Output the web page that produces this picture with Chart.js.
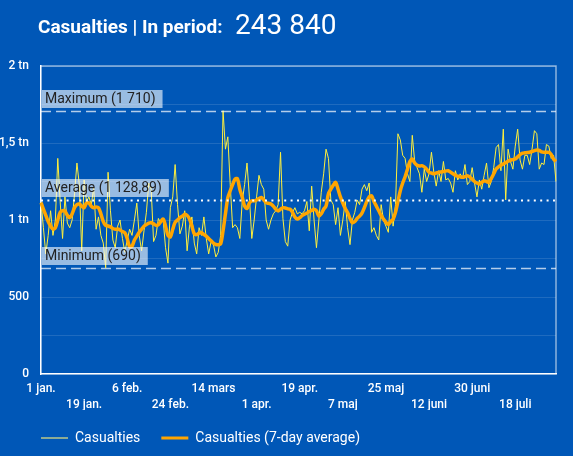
<!DOCTYPE html>
<html>
<head>
<meta charset="utf-8">
<script src="https://cdn.jsdelivr.net/npm/chart.js@4.4.0/dist/chart.umd.min.js"></script>
<style>
  html, body { margin: 0; padding: 0; background: #0057b7; overflow: hidden; }
  #wrap { position: relative; width: 573px; height: 456px; }
  #chart { position: absolute; left: 0; top: 0; }
  .t1 { position: absolute; left: 38px; top: 17px; font: bold 19px/19px Roboto, sans-serif; color: #fff; white-space: nowrap; }
  .t2 { position: absolute; left: 235px; top: 11px; font: 28px/28px Roboto, sans-serif; color: #fff; white-space: nowrap; }
</style>
</head>
<body>
<div id="wrap">
  <canvas id="chart" width="573" height="456"></canvas>
  <span class="t1">Casualties | In period:</span>
  <span class="t2" id="total"></span>
</div>
<script>
// 1 jan. 2023 - 4 aug. 2023, one value per day
const casualties = [
  1120, 950, 780, 900, 1060, 900, 1000, 1400, 1120, 880,
  1150, 980, 950, 1000, 1170, 1370, 1230, 800, 1260, 1120,
  1150, 1100, 1210, 940, 1020, 900, 850, 690, 1310, 1060,
  870, 820, 960, 1000, 880, 790, 870, 940, 900, 1000,
  1110, 900, 800, 930, 1050, 1240, 1200, 860, 900, 1010,
  980, 1000, 820, 720, 1080, 1150, 1360, 1100, 910, 960,
  1060, 800, 960, 1020, 850, 780, 950, 900, 1020, 880,
  780, 860, 840, 760, 790, 900, 1710, 1460, 1540, 1230,
  950, 970, 950, 880, 1120, 1230, 1370, 1150, 880, 1000,
  1150, 1290, 1230, 1200, 1000, 940, 1000, 1040, 1060, 1100,
  1440, 1010, 860, 830, 1000, 1050, 1080, 1040, 1050, 1040,
  1060, 1120, 930, 1220, 1000, 820, 1000, 1180, 1300, 1460,
  1400, 1130, 1100, 970, 1080, 900, 1000, 1120, 950, 840,
  1000, 1050, 1130, 1100, 1200, 1230, 1190, 1240, 920, 950,
  900, 870, 1100, 1000, 960, 920, 1150, 960, 1100, 1560,
  1520, 1420, 1400, 1300, 1250, 1550, 1380, 1340, 1300, 1180,
  1330, 1250, 1300, 1440, 1310, 1220, 1320, 1250, 1380, 1260,
  1270, 1240, 1180, 1320, 1260, 1300, 1270, 1360, 1230, 1250,
  1340, 1240, 1150, 1260, 1200, 1290, 1370, 1210, 1250, 1340,
  1470, 1490, 1320, 1590, 1130, 1460, 1380, 1330, 1480, 1590,
  1390, 1330, 1420, 1420, 1360, 1460, 1580, 1560, 1330, 1370,
  1360, 1490, 1480, 1400, 1420, 1250
];

const casualtiesAvg = [
  1113, 1070, 1030, 990, 960, 941, 950, 1000, 1050, 1060,
  1059, 1030, 1015, 1040, 1080, 1100, 1104, 1090, 1080, 1110,
  1110, 1090, 1080, 1085, 1080, 1040, 990, 965, 961, 955,
  945, 940, 941, 935, 925, 917, 880, 825, 830, 870,
  895, 920, 940, 960, 970, 980, 982, 975, 965, 970,
  990, 1006, 960, 900, 890, 940, 985, 1000, 1015, 1025,
  1037, 1030, 1006, 960, 910, 905, 915, 917, 905, 895,
  880, 865, 850, 841, 840, 845, 930, 1040, 1146, 1190,
  1230, 1265, 1268, 1200, 1150, 1090, 1075, 1110, 1124, 1124,
  1130, 1140, 1146, 1130, 1113, 1108, 1104, 1090, 1070, 1059,
  1070, 1080, 1078, 1072, 1070, 1050, 1020, 1006, 1015, 1028,
  1037, 1045, 1055, 1062, 1070, 1060, 1026, 1040, 1070, 1091,
  1170, 1200, 1225, 1244, 1200, 1150, 1110, 1075, 1048, 1010,
  982, 990, 1010, 1025, 1045, 1080, 1120, 1150, 1157, 1120,
  1090, 1060, 1030, 1005, 985, 971, 990, 1006, 1050, 1120,
  1190, 1240, 1280, 1330, 1380, 1396, 1370, 1355, 1350, 1353,
  1345, 1330, 1310, 1305, 1300, 1305, 1309, 1312, 1315, 1318,
  1320, 1310, 1300, 1290, 1285, 1280, 1277, 1282, 1288, 1280,
  1265, 1250, 1240, 1233, 1245, 1255, 1250, 1244, 1270, 1300,
  1331, 1345, 1355, 1364, 1372, 1382, 1388, 1392, 1396, 1410,
  1425, 1434, 1436, 1438, 1440, 1445, 1450, 1455, 1452, 1442,
  1440, 1440, 1440, 1425, 1395, 1380
];

// a date label every 18 days
const tickLabels = ['1 jan.', '19 jan.', '6 feb.', '24 feb.', '14 mars', '1 apr.',
  '19 apr.', '7 maj', '25 maj', '12 juni', '30 juni', '18 juli'];
const tickStep = 18;

const yTicks = [0, 500, 1000, 1500, 2000];
const yTickText = ['0', '500', '1 tn', '1,5 tn', '2 tn'];

const periodTotal = '243 840';
const refValues = [1710, 1128.89, 690];
const refTexts = ['Maximum (1 710)', 'Average (1 128,89)', 'Minimum (690)'];

const days = casualties.map((v, i) => i);
const gridColor = 'rgba(255,255,255,0.12)';
const font = {family: 'Roboto', size: 12, weight: 500, lineHeight: 1.35};

document.getElementById('total').textContent = periodTotal;

const frame = {
  id: 'frame',
  afterLayout(chart) {
    // legend starts under the plot, not at the canvas edge
    chart.legend.left += 20;
    chart.legend.right += 20;
  },
  beforeDatasetsDraw(chart) {
    const {ctx, chartArea: a} = chart;
    ctx.save();
    ctx.strokeStyle = 'rgba(255,255,255,0.55)';
    ctx.lineWidth = 1.5;
    ctx.beginPath();
    ctx.moveTo(a.left, a.top);
    ctx.lineTo(a.right, a.top);
    ctx.lineTo(a.right, a.bottom);
    ctx.stroke();
    ctx.restore();
  }
};

const refLines = {
  id: 'refLines',
  afterDatasetsDraw(chart) {
    const {ctx, chartArea: a, scales: {y}} = chart;
    ctx.save();
    refValues.forEach((v, i) => {
      const py = Math.round(y.getPixelForValue(v)) + 0.5;
      if (i == 1) {
        ctx.setLineDash([2, 4.4]);
        ctx.lineWidth = 2;
        ctx.strokeStyle = '#fff';
      } else {
        ctx.setLineDash([10, 5]);
        ctx.lineWidth = 1.5;
        ctx.strokeStyle = 'rgba(255,255,255,0.7)';
      }
      ctx.beginPath();
      ctx.moveTo(a.left, py);
      ctx.lineTo(a.right, py);
      ctx.stroke();
      ctx.setLineDash([]);

      ctx.font = '14px Roboto';
      const tw = ctx.measureText(refTexts[i]).width;
      ctx.fillStyle = 'rgba(255,255,255,0.6)';
      ctx.fillRect(a.left + 1, py - 21.5, tw + 10, 18);
      ctx.fillStyle = '#222';
      ctx.textBaseline = 'middle';
      ctx.fillText(refTexts[i], a.left + 4, py - 12);
    });
    ctx.restore();
  }
};

const myChart = new Chart(document.getElementById('chart'), {
  type: 'line',
  data: {
    labels: days,
    datasets: [{
      label: 'Casualties',
      data: casualties,
      borderColor: '#fff03c',
      borderWidth: 1,
      pointRadius: 0,
      tension: 0,
      order: 1
    }, {
      label: 'Casualties (7-day average)',
      data: casualtiesAvg,
      borderColor: '#ffa500',
      borderWidth: 3.5,
      pointRadius: 0,
      tension: 0.3,
      order: 0
    }]
  },
  options: {
    responsive: false,
    animation: false,
    devicePixelRatio: 1,
    layout: {padding: {top: 66, left: 0, right: 17, bottom: 1}},
    plugins: {
      tooltip: {enabled: false},
      legend: {
        position: 'bottom',
        align: 'start',
        labels: {
          color: '#fff',
          font: {family: 'Roboto', size: 14},
          usePointStyle: true,
          pointStyle: 'line',
          pointStyleWidth: 27,
          padding: 21,
          sort: (a, b) => a.datasetIndex - b.datasetIndex,
          generateLabels(chart) {
            const items = Chart.defaults.plugins.legend.labels.generateLabels(chart);
            items.forEach(it => {
              if (it.datasetIndex === 0) {
                it.lineWidth = 2;
                it.strokeStyle = '#8cab94';
              } else {
                it.lineWidth = 3;
              }
            });
            return items;
          }
        }
      }
    },
    scales: {
      x: {
        border: {color: '#fff', width: 1.5},
        grid: {
          color: c => c.index % tickStep === 0 ? gridColor : 'transparent',
          drawTicks: false
        },
        ticks: {
          autoSkip: false,
          maxRotation: 0,
          padding: 7,
          color: '#fff',
          font: font,
          callback: (v, i) => {
            if (i % tickStep) return null;
            const k = i / tickStep;
            return k % 2 ? ['', tickLabels[k]] : tickLabels[k];
          }
        },
        afterFit: s => { s.height = 36; }
      },
      y: {
        min: 0,
        max: 2000,
        border: {color: '#fff', width: 1.5},
        grid: {color: gridColor, drawTicks: false},
        ticks: {
          stepSize: 250,
          padding: 12,
          color: '#fff',
          font: font,
          callback: v => {
            const k = yTicks.indexOf(v);
            return k < 0 ? '' : yTickText[k];
          }
        },
        afterFit: s => { s.width = 41; }
      }
    }
  },
  plugins: [frame, refLines]
});
</script>
</body>
</html>
